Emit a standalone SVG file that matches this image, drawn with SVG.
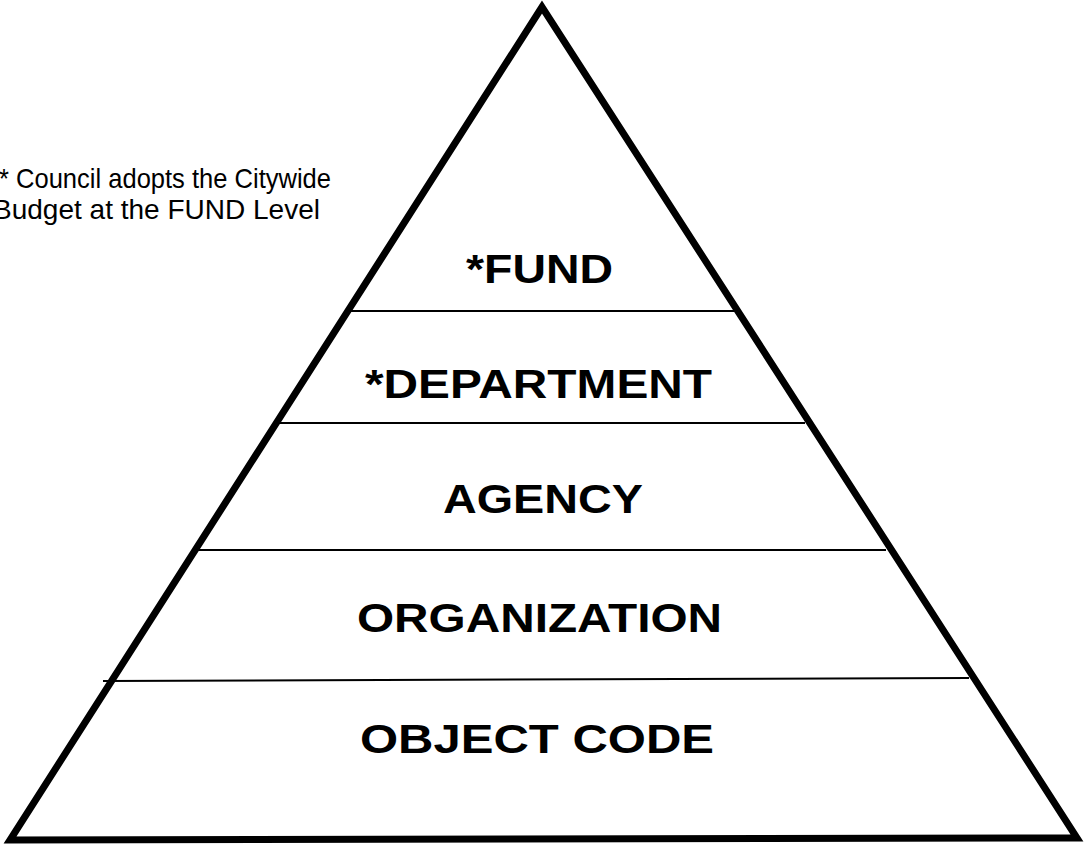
<svg xmlns="http://www.w3.org/2000/svg" width="1086" height="848" viewBox="0 0 1086 848">
<style>
.tri{fill:none;stroke:#000;stroke-width:7;stroke-linejoin:miter;stroke-miterlimit:10}
.div{stroke:#000;stroke-width:2;fill:none}
.lvl{font-family:"Liberation Sans",Arial,sans-serif;font-weight:bold;font-size:41px;fill:#000}
.note{font-family:"Liberation Sans",Arial,sans-serif;font-size:27.5px;fill:#000}
</style>
<rect width="1086" height="848" fill="#fff"/>
<g id="pyramid">
<polygon class="tri" points="542,7 10,840 1077,838"/>
</g>
<g id="connectors">
<line class="div" x1="350" y1="311" x2="735" y2="311"/>
<line class="div" x1="279" y1="423" x2="805" y2="423"/>
<line class="div" x1="198" y1="550" x2="886" y2="550"/>
<line class="div" x1="103" y1="681" x2="969" y2="678"/>
</g>
<g id="fund"><text class="lvl" x="466" y="283" textLength="147" lengthAdjust="spacingAndGlyphs">*FUND</text></g>
<g id="department"><text class="lvl" x="365" y="398" textLength="347" lengthAdjust="spacingAndGlyphs">*DEPARTMENT</text></g>
<g id="agency"><text class="lvl" x="443" y="513" textLength="200" lengthAdjust="spacingAndGlyphs">AGENCY</text></g>
<g id="organization"><text class="lvl" x="357" y="632" textLength="365" lengthAdjust="spacingAndGlyphs">ORGANIZATION</text></g>
<g id="objectcode"><text class="lvl" x="360" y="753" textLength="354" lengthAdjust="spacingAndGlyphs">OBJECT CODE</text></g>
<g id="note">
<text class="note" x="-1" y="188" textLength="332" lengthAdjust="spacingAndGlyphs">* Council adopts the Citywide</text>
<text class="note" x="-7" y="219" textLength="327" lengthAdjust="spacingAndGlyphs">Budget at the FUND Level</text>
</g>
</svg>
